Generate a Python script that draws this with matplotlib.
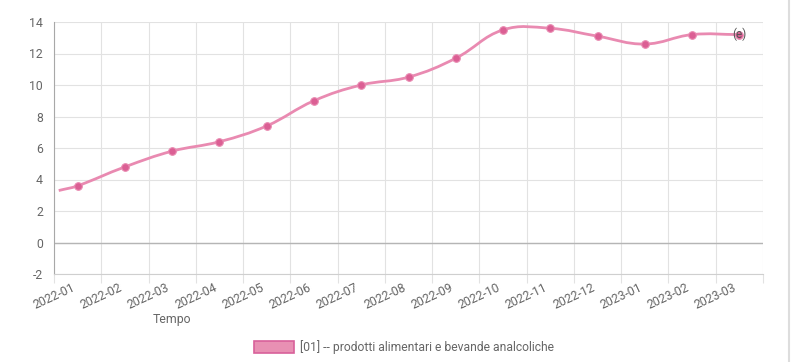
import numpy as np
import matplotlib.pyplot as plt
from matplotlib.path import Path
from matplotlib.patches import PathPatch, Patch

plt.rcParams['font.family'] = ['Roboto', 'DejaVu Sans']
plt.rcParams['axes.unicode_minus'] = False

months = ['2022-01', '2022-02', '2022-03', '2022-04', '2022-05', '2022-06', '2022-07',
          '2022-08', '2022-09', '2022-10', '2022-11', '2022-12', '2023-01', '2023-02', '2023-03']
# points sit in the middle of each month
values = [3.6, 4.8, 5.8, 6.4, 7.4, 9.0, 10.0, 10.5, 11.7, 13.5, 13.6, 13.1, 12.6, 13.2, 13.2]
start_value = 3.3   # line begins just right of the axis, no marker there
series_name = '[01] -- prodotti alimentari e bevande analcoliche'
estimate_flag = '(e)'

line_col = '#e98ab1'
dot_col = '#db5f94'
grid_col = '#e2e2e2'
text_col = '#666666'

fig = plt.figure(figsize=(7.91, 3.62), dpi=100)
ax = fig.add_axes([54 / 791, 1 - 274 / 362, (763 - 54) / 791, (274 - 22) / 362])

ax.set_xlim(0, 15)
ax.set_ylim(-2, 14)

xs = np.array([0.1] + [i + 0.5 for i in range(len(values))])
ys = np.array([start_value] + values)

# Chart.js style bezier (tension 0.4), computed in pixel space
sx, sy = 709 / 15, 252 / 16
px, py = xs * sx, ys * sy
t = 0.4
n = len(px)
cp_prev = np.zeros((n, 2))
cp_next = np.zeros((n, 2))
for i in range(n):
    p0 = (px[max(i - 1, 0)], py[max(i - 1, 0)])
    p1 = (px[i], py[i])
    p2 = (px[min(i + 1, n - 1)], py[min(i + 1, n - 1)])
    d01 = np.hypot(p1[0] - p0[0], p1[1] - p0[1])
    d12 = np.hypot(p2[0] - p1[0], p2[1] - p1[1])
    s01 = d01 / (d01 + d12) if d01 + d12 else 0
    s12 = d12 / (d01 + d12) if d01 + d12 else 0
    fa, fb = t * s01, t * s12
    cp_prev[i] = (p1[0] - fa * (p2[0] - p0[0]), p1[1] - fa * (p2[1] - p0[1]))
    cp_next[i] = (p1[0] + fb * (p2[0] - p0[0]), p1[1] + fb * (p2[1] - p0[1]))

verts = [(xs[0], ys[0])]
codes = [Path.MOVETO]
for i in range(n - 1):
    verts += [(cp_next[i][0] / sx, cp_next[i][1] / sy),
              (cp_prev[i + 1][0] / sx, cp_prev[i + 1][1] / sy),
              (xs[i + 1], ys[i + 1])]
    codes += [Path.CURVE4] * 3
ax.add_patch(PathPatch(Path(verts, codes), fill=False, edgecolor=line_col, lw=2, zorder=3))

ax.scatter(xs[1:], ys[1:], s=30, color=dot_col, edgecolor=line_col, linewidth=0.8, zorder=4)
ax.text(xs[-1], ys[-1], estimate_flag, ha='center', va='center', fontsize=8.5,
        color='#555555', zorder=5)

ax.set_yticks(range(-2, 15, 2))
ax.set_xticks(range(16))
ax.set_xticklabels(months + [''], rotation=25, ha='center', va='top')
ax.tick_params(axis='x', length=6.5, color=grid_col, labelsize=8.8, labelcolor=text_col, pad=-1.2)
ax.tick_params(axis='y', length=0, labelsize=8.8, labelcolor=text_col, pad=8)
ax.grid(True, color=grid_col, lw=0.8)
ax.set_axisbelow(True)
ax.axhline(0, color='#b5b5b5', lw=1, zorder=1)
for side in ['top', 'right']:
    ax.spines[side].set_visible(False)
ax.spines['left'].set_color('#a8a8a8')
ax.spines['bottom'].set_color('#cfcfcf')

fig.text(172 / 791, 1 - 320 / 362, 'Tempo', ha='center', va='center', fontsize=8.8, color=text_col)

fig.legend(handles=[Patch(facecolor='#e890b3', edgecolor='#d8609a', lw=1.2, label=series_name)],
           loc='center', bbox_to_anchor=(404 / 791, 1 - 347 / 362), frameon=False, fontsize=8.7,
           handlelength=3.3, handleheight=1.1, labelcolor=text_col, handletextpad=0.5)

fig.add_artist(plt.Line2D([789 / 791, 789 / 791], [0, 1], color='#dddddd', lw=1.5))

fig.savefig('out.png', dpi=100)
